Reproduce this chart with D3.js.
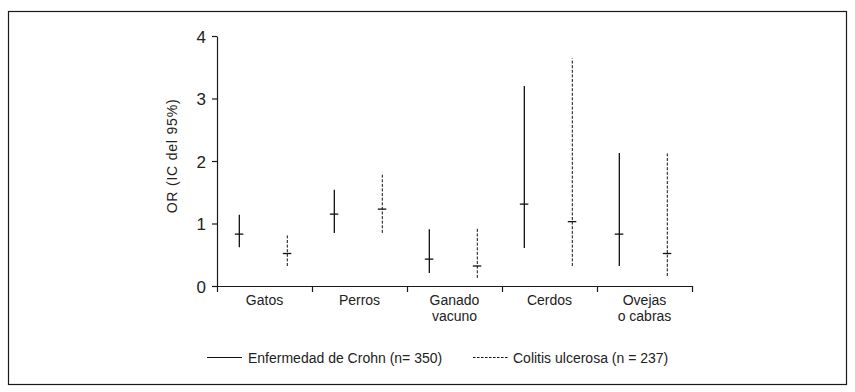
<!DOCTYPE html>
<html>
<head>
<meta charset="utf-8">
<script src="https://cdn.jsdelivr.net/npm/d3@7"></script>
<style>
    html, body { margin: 0; padding: 0; background: #fff; }
    svg { display: block; font-family: "Liberation Sans", Arial, sans-serif; }
    .axis path, .axis line { stroke: #1a1a1a; stroke-width: 1.2; }
    .axis text { fill: #222; }
</style>
</head>
<body>
<svg id="chart" width="855" height="392"></svg>
<script>
    // categories (multi-line labels split by \n)
    const categories = ['Gatos', 'Perros', 'Ganado\nvacuno', 'Cerdos', 'Ovejas\no cabras'];

    // Enfermedad de Crohn: OR, lower, upper
    const crohnOR    = [0.83, 1.15, 0.43, 1.31, 0.83];
    const crohnLow   = [0.62, 0.85, 0.21, 0.61, 0.32];
    const crohnHigh  = [1.14, 1.54, 0.91, 3.20, 2.13];

    // Colitis ulcerosa: OR, lower, upper
    const ucOR    = [0.52, 1.23, 0.32, 1.03, 0.52];
    const ucLow   = [0.32, 0.85, 0.13, 0.32, 0.16];
    const ucHigh  = [0.82, 1.81, 0.93, 3.64, 2.13];

    const yTicks = [0, 1, 2, 3, 4];

    const series = [
        { name: 'Enfermedad de Crohn (n= 350)', or: crohnOR, lo: crohnLow, hi: crohnHigh, pos: 0.235, dash: null, width: 1.3 },
        { name: 'Colitis ulcerosa (n = 237)', or: ucOR, lo: ucLow, hi: ucHigh, pos: 0.74, dash: '3,1.6', width: 1.0 }
    ];

    const svg = d3.select('#chart');

    // frame
    svg.append('rect')
        .attr('x', 8.5).attr('y', 11.5)
        .attr('width', 838).attr('height', 373)
        .attr('fill', 'none').attr('stroke', '#1a1a1a').attr('stroke-width', 1.2);

    const x0 = 217, x1 = 692, yTop = 36, yBottom = 286;

    const x = d3.scaleBand().domain(categories).range([x0, x1]).padding(0);
    const xEdges = d3.scaleLinear().domain([0, categories.length]).range([x0, x1]);
    const y = d3.scaleLinear().domain([0, 4]).range([yBottom, yTop]);

    // y axis
    const yAxis = svg.append('g')
        .attr('class', 'axis')
        .attr('transform', `translate(${x0},0)`)
        .call(d3.axisLeft(y).tickValues(yTicks).tickSize(5).tickSizeOuter(0).tickPadding(6).tickFormat(d3.format('d')));
    yAxis.selectAll('text').attr('font-size', 17).attr('dy', '0.36em');

    // x axis: ticks at category boundaries
    svg.append('g')
        .attr('class', 'axis')
        .attr('transform', `translate(0,${yBottom})`)
        .call(d3.axisBottom(xEdges).tickValues(d3.range(categories.length + 1)).tickSize(6).tickSizeOuter(0).tickFormat(''));

    // category labels
    const labels = svg.append('g')
        .attr('font-size', 14)
        .attr('fill', '#222')
        .attr('text-anchor', 'middle');
    categories.forEach(c => {
        const t = labels.append('text')
            .attr('x', x(c) + x.bandwidth() / 2)
            .attr('y', 305);
        c.split('\n').forEach((line, i) => {
            t.append('tspan')
                .attr('x', x(c) + x.bandwidth() / 2)
                .attr('dy', i === 0 ? 0 : 15.5)
                .text(line);
        });
    });

    // y axis title
    svg.append('text')
        .attr('transform', `translate(177,156) rotate(-90)`)
        .attr('text-anchor', 'middle')
        .attr('font-size', 14)
        .attr('letter-spacing', 0.8)
        .attr('fill', '#222')
        .text('OR (IC del 95%)');

    // error bars
    series.forEach(s => {
        const g = svg.append('g');
        categories.forEach((c, i) => {
            const cx = x(c) + x.bandwidth() * s.pos;
            g.append('line')
                .attr('x1', cx).attr('x2', cx)
                .attr('y1', y(s.lo[i])).attr('y2', y(s.hi[i]))
                .attr('stroke', '#111')
                .attr('stroke-width', s.width)
                .attr('stroke-dasharray', s.dash);
            g.append('line')
                .attr('x1', cx - 4.5).attr('x2', cx + 4)
                .attr('y1', y(s.or[i])).attr('y2', y(s.or[i]))
                .attr('stroke', '#111')
                .attr('stroke-width', 1.3);
        });
    });

    // legend
    const legendPos = [{ lx: 207, tx: 248 }, { lx: 473, tx: 513 }];
    series.forEach((s, i) => {
        const p = legendPos[i];
        svg.append('line')
            .attr('x1', p.lx).attr('x2', p.lx + 35)
            .attr('y1', 357.5).attr('y2', 357.5)
            .attr('stroke', '#111')
            .attr('stroke-width', 1.1)
            .attr('stroke-dasharray', s.dash ? '2.5,1.5' : null);
        svg.append('text')
            .attr('x', p.tx).attr('y', 362.5)
            .attr('font-size', 14)
            .attr('fill', '#222')
            .text(s.name);
    });
</script>
</body>
</html>
